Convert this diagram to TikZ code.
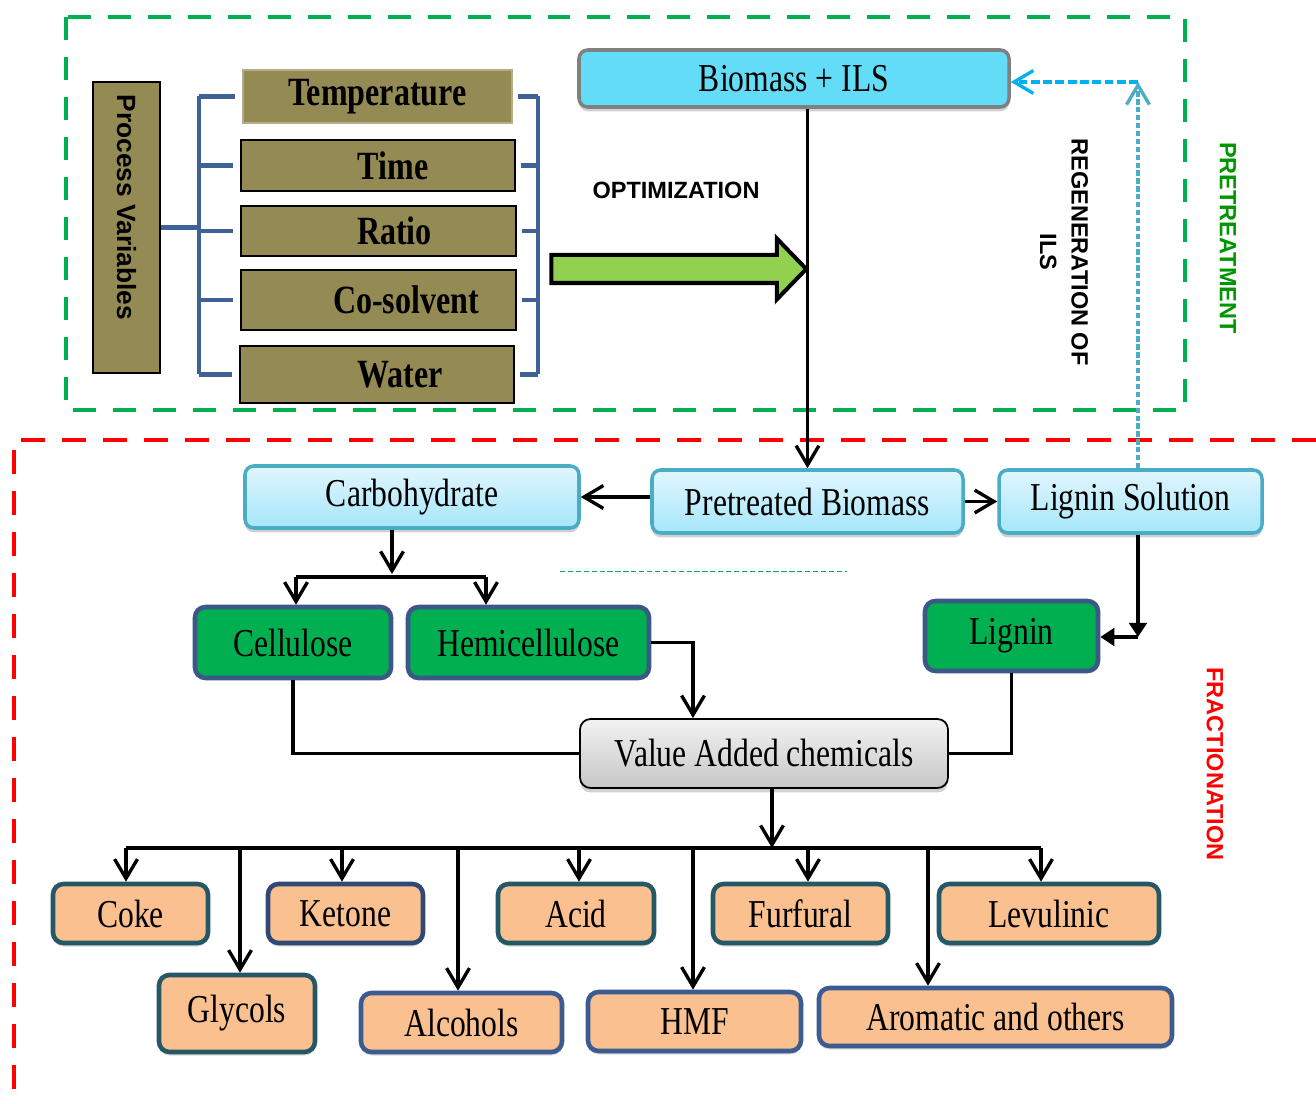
\documentclass[tikz,border=0pt]{standalone}
\usepackage{fontspec}
\setmainfont{Liberation Serif}[FakeStretch=0.8]
\newfontfamily\labelsans{Liberation Sans}
\usepackage{tikz}
\usetikzlibrary{arrows.meta, positioning, shapes.arrows, shadows, calc}

\definecolor{olivebox}{RGB}{148,138,84}
\definecolor{bracketblue}{RGB}{62,98,150}
\definecolor{biomasscyan}{RGB}{99,221,247}
\definecolor{paleblue}{RGB}{225,246,254}
\definecolor{skyblue}{RGB}{165,230,250}
\definecolor{skyedge}{RGB}{75,172,198}
\definecolor{fracgreen}{RGB}{0,176,80}
\definecolor{fracedge}{RGB}{59,88,136}
\definecolor{peach}{RGB}{250,192,143}
\definecolor{tealedge}{RGB}{36,88,103}
\definecolor{navyedge}{RGB}{59,91,145}
\definecolor{optgreen}{RGB}{146,208,80}
\definecolor{regenblue}{RGB}{0,176,240}
\definecolor{labelgreen}{RGB}{0,150,0}

\tikzset{
  boxsize/.style 2 args={minimum width=#1*0.02cm, minimum height=#2*0.02cm},
  varbox/.style={
    draw=black, line width=0.9pt, fill=olivebox, inner sep=0pt,
    font=\fontsize{22.8}{25}\selectfont\bfseries
  },
  bracket/.style={draw=bracketblue, line width=2.4pt},
  feedbox/.style={
    draw=skyedge, line width=2pt, rounded corners=5pt,
    top color=paleblue, bottom color=skyblue, inner sep=0pt,
    font=\fontsize{22.5}{26}\selectfont,
    drop shadow={shadow xshift=0pt, shadow yshift=-2.5pt, fill=black!18, opacity=1}
  },
  fracbox/.style={
    draw=fracedge, line width=2.6pt, rounded corners=6pt, fill=fracgreen,
    inner sep=0pt, font=\fontsize{22.5}{26}\selectfont
  },
  productbox/.style={
    draw=tealedge, line width=2.6pt, rounded corners=6pt, fill=peach,
    inner sep=0pt, font=\fontsize{22.5}{26}\selectfont,
    drop shadow={shadow xshift=0pt, shadow yshift=-2pt, fill=black!15, opacity=1}
  },
  sidelabel/.style={font=\labelsans\bfseries\fontsize{13.4}{18}\selectfont, rotate=-90, align=center},
  flow/.style={line width=1.9pt, -{Straight Barb[length=11pt, width=13pt, line width=1.9pt]}},
  solidflow/.style={line width=1.9pt, -{Triangle[length=8pt, width=10pt]}},
  plain/.style={line width=1.9pt},
}

\begin{document}
\begin{tikzpicture}[x=0.02cm, y=-0.02cm]
  \useasboundingbox (0,0) rectangle (1316,1104);

  % frames of the two stages
  \draw[fracgreen, line width=2.3pt, dash pattern=on 0.46cm off 0.34cm] (66,17) rectangle (1185,410);
  \draw[red, line width=2.8pt, dash pattern=on 0.48cm off 0.34cm] (1316,440) -- (14,440) -- (14,1104);

  % process variables
  \node[varbox, rotate=-90, boxsize={291}{67}, font=\labelsans\bfseries\fontsize{15}{17}\selectfont]
    (procvar) at (126.5,227.5) {Process Variables\hspace*{0.8cm}};
  \node[varbox, draw=olivebox!70!white, boxsize={269}{53}] (temp) at (377.5,96.5) {Temperature};
  \node[varbox, boxsize={274}{51}] (time) at (378,165.5) {\hspace*{0.6cm}Time};
  \node[varbox, boxsize={275}{50}] (ratio) at (378.5,231) {\hspace*{0.64cm}Ratio};
  \node[varbox, boxsize={275}{60}] (cosolv) at (378.5,300) {\hspace*{1.1cm}Co-solvent};
  \node[varbox, boxsize={274}{57}] (water) at (377,374.5) {\hspace*{0.92cm}Water};

  \coordinate (lbar) at (199,0);
  \coordinate (rbar) at (538,0);
  \draw[bracket] (temp.west -| lbar) -- (water.west -| lbar);
  \draw[bracket] (temp.east -| rbar) -- (water.east -| rbar);
  \draw[bracket] (procvar.north) -- (procvar.north -| lbar);
  \foreach \v in {temp,time,ratio,cosolv,water} {
    \draw[bracket] (\v.west -| lbar) -- ([xshift=-4pt]\v.west);
    \draw[bracket] ([xshift=3pt]\v.east) -- (\v.east -| rbar);
  }

  % optimization arrow
  \node[font=\labelsans\bfseries\fontsize{13.4}{16}\selectfont] (optlbl) at (676,190) {OPTIMIZATION};
  \node[single arrow, draw=black, line width=2.3pt, fill=optgreen, inner sep=0pt,
    minimum height=5.1cm, single arrow head extend=0.33cm, text height=0.48cm,
    single arrow tip angle=92] (optarrow) at (672,269) {};

  % feed and first split
  \node[draw=gray, line width=2pt, rounded corners=5pt, fill=biomasscyan, boxsize={430}{57},
    font=\fontsize{22.5}{26}\selectfont,
    drop shadow={shadow xshift=0pt, shadow yshift=-2.5pt, fill=black!18, opacity=1}]
    (biomass) at (794,78.5) {Biomass + ILS};
  \node[feedbox, boxsize={311}{63}] (pretreated) at (807.5,501.5) {Pretreated Biomass};
  \node[feedbox, boxsize={263}{63}] (lignsol) at (1130.5,501.5) {Lignin Solution};
  \node[feedbox, boxsize={334}{62}] (carb) at (412,497) {Carbohydrate};

  \draw[flow] (biomass.south -| pretreated) -- (pretreated.north);
  \draw[flow] (pretreated.west |- carb) -- (carb.east);
  \draw[flow] (pretreated.east) -- (lignsol.west);

  % regeneration of the ionic liquid
  \node[sidelabel] (regenlbl) at (1064,252) {REGENERATION OF\\ILS};
  \node[sidelabel, text=labelgreen] (pretreatlbl) at (1228,238) {PRETREATMENT};
  \node[sidelabel, text=red] (fractlbl) at (1215,764) {FRACTIONATION};
  \coordinate (rcorner) at (1138,82);
  \draw[skyedge, line width=2.6pt, dash pattern=on 3pt off 1.5pt,
    -{Straight Barb[length=11pt, width=13pt, line width=1.9pt]}] (lignsol.north -| rcorner) -- (rcorner);
  \draw[regenblue, line width=2pt, dash pattern=on 5pt off 2pt,
    -{Straight Barb[length=11pt, width=13pt, line width=1.9pt]}] (rcorner) -- (biomass.east |- rcorner);

  % fractions
  \node[fracbox, boxsize={196}{71}] (cellulose) at (293,642.5) {Cellulose};
  \node[fracbox, boxsize={241}{71}] (hemi) at (528.5,642.5) {Hemicellulose};
  \node[fracbox, boxsize={173}{70}] (lignin) at (1011.5,636) {Lignin};
  \node[draw=black, line width=1pt, rounded corners=6pt, top color=black!5, bottom color=black!22,
    boxsize={368}{69}, font=\fontsize{22.5}{26}\selectfont,
    drop shadow={shadow xshift=0pt, shadow yshift=-2.5pt, fill=black!18, opacity=1}]
    (value) at (764,753.5) {Value Added chemicals};

  \draw[fracgreen, line width=0.5pt, dash pattern=on 3pt off 1.5pt] (560,571) -- (847,571);

  \coordinate (cbus) at (392,574);
  \coordinate (cb1) at (296,577);
  \coordinate (cb2) at (486,577);
  \draw[flow] (carb.south -| cbus) -- (cbus);
  \draw[plain] (cb1) -- (cb2);
  \draw[flow] (cb1) -- (cb1 |- cellulose.north);
  \draw[flow] (cb2) -- (cb2 |- hemi.north);

  \coordinate (hv) at (693,0);
  \coordinate (lcorner) at (1138,637);
  \draw[flow] (hemi.east) -| (value.north -| hv);
  \draw[plain] (cellulose.south) |- (value.west);
  \draw[plain] (lignin.south) |- (value.east);
  \draw[solidflow] (lignsol.south -| lcorner) -- (lcorner);
  \draw[solidflow] (lcorner) -- (lignin.east |- lcorner);

  % products
  \node[productbox, boxsize={155}{59}] (coke) at (130.5,913.5) {Coke};
  \node[productbox, draw=navyedge!80!black, boxsize={155}{59}] (ketone) at (345.5,913.5) {Ketone};
  \node[productbox, boxsize={156}{59}] (acid) at (576,913.5) {Acid};
  \node[productbox, boxsize={175}{59}] (furfural) at (800.5,913.5) {Furfural};
  \node[productbox, boxsize={220}{59}] (levulinic) at (1049,913.5) {Levulinic};
  \node[productbox, boxsize={156}{77}] (glycols) at (237,1013.5) {Glycols};
  \node[productbox, draw=navyedge, boxsize={201}{59}] (alcohols) at (461.5,1022.5) {Alcohols};
  \node[productbox, draw=navyedge, boxsize={213}{59}] (hmf) at (694.5,1021.5) {HMF};
  \node[productbox, draw=navyedge, boxsize={353}{58}] (aromatic) at (995.5,1017) {Aromatic and others};

  \coordinate (vbus) at (772,848);
  \draw[flow] (value.south -| vbus) -- (vbus);
  \draw[plain] (126,848) -- (1041,848);
  \foreach \p/\x in {coke/126, glycols/240, ketone/342, alcohols/458, acid/579,
                     hmf/693, furfural/808, aromatic/928, levulinic/1041} {
    \coordinate (tap) at (\x,848);
    \draw[flow] (tap) -- (tap |- \p.north);
  }
\end{tikzpicture}
\end{document}
